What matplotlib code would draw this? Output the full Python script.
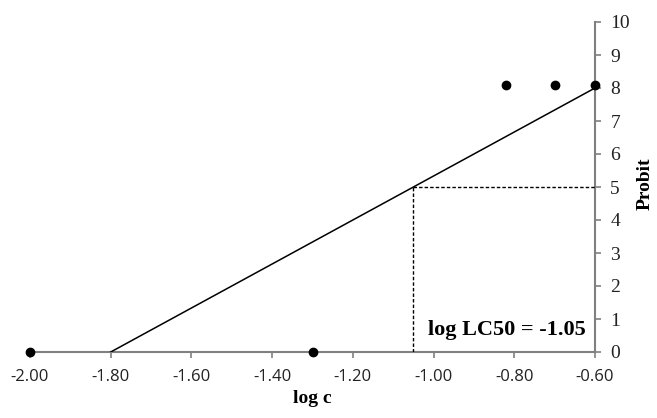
import matplotlib
matplotlib.use("Agg")
import matplotlib.pyplot as plt

# Data
log_c = [-2.00, -1.30, -0.82, -0.70, -0.60]
probit = [0.0, 0.0, 8.09, 8.09, 8.09]
fit_x = [-1.80, -0.60]
fit_y = [0.0, 8.0]
lc50 = -1.05
lc50_probit = 5.0
xticks = [-2.00, -1.80, -1.60, -1.40, -1.20, -1.00, -0.80, -0.60]
yticks = list(range(0, 11))

fig = plt.figure(figsize=(6.57, 4.18), dpi=100)
ax = fig.add_axes([30/657, 1-352/418, (595-30)/657, (352-22)/418])

ax.plot(fit_x, fit_y, color="black", lw=1.1, zorder=3)
ax.plot([lc50, lc50], [0, lc50_probit], color="black", lw=1.0, ls=(0, (2.5, 1.5)), zorder=3)
ax.plot([lc50, -0.60], [lc50_probit, lc50_probit], color="black", lw=1.0, ls=(0, (2.5, 1.5)), zorder=3)
ax.plot(log_c, probit, "o", color="black", markersize=6, zorder=4, clip_on=False)

ax.set_xlim(-2.0, -0.6)
ax.set_ylim(0, 10)
ax.set_xticks(xticks)
ax.set_xticklabels([f"{v:.2f}" for v in xticks], fontfamily="Open Sans", fontsize=12)
ax.set_yticks(yticks)
ax.yaxis.tick_right()
ax.set_yticklabels([str(v) for v in yticks], fontfamily="Liberation Serif", fontsize=14)

for s in ["left", "top"]:
    ax.spines[s].set_visible(False)
for s in ["right", "bottom"]:
    ax.spines[s].set_color("#808080")
    ax.spines[s].set_linewidth(1.5)
ax.tick_params(axis="both", direction="out", length=4, width=1.2, color="#808080", labelcolor="#222222")
ax.tick_params(axis="x", pad=8)
ax.tick_params(axis="y", pad=7)

ax.set_xlabel("log c", fontfamily="Liberation Serif", fontweight="bold", fontsize=14, labelpad=4)
fig.text(645 / 657, 1 - 184 / 418, "Probit", rotation=90, ha="center", va="center",
         fontfamily="Liberation Serif", fontweight="bold", fontsize=14)

ax.text(-0.622, 0.5, "log LC50 = -1.05", ha="right", va="baseline",
        fontfamily="Liberation Serif", fontweight="bold", fontsize=16)

fig.savefig("out.png", dpi=100)
